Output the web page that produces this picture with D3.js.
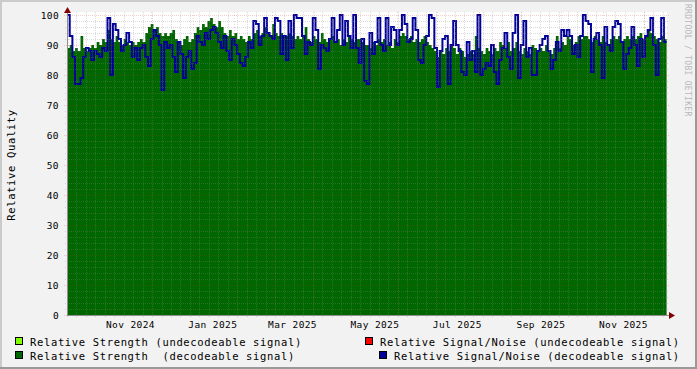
<!DOCTYPE html>
<html>
<head>
<meta charset="utf-8">
<script src="https://cdn.jsdelivr.net/npm/d3@7"></script>
<style>
  html, body { margin: 0; padding: 0; background: #f2f2f2; }
  svg { display: block; }
  text { font-family: "DejaVu Sans Mono", monospace; }
</style>
</head>
<body>
<svg id="chart" width="697" height="369"></svg>
<script>
'use strict';

// one value every two days, starting 30 Sep 2024
const startDay = new Date(2024, 8, 30);
const endDay = new Date(2025, 11, 18, 7);
const stepDays = 2;

// Relative Strength (decodeable signal), area
const strength = [
  89,90,88,89,88,93,89,88,89,90,89,91,90,92,91,95,92,91,93,91,90,92,91,90,91,90,91,92,91,94,96,97,95,96,94,93,94,
  93,94,95,92,91,90,92,93,91,92,94,96,95,97,96,98,99,97,96,98,96,94,93,95,93,94,92,93,92,91,93,92,94,95,93,94,96,
  94,93,97,94,93,94,93,93,94,93,92,93,92,93,96,92,91,93,92,91,94,92,91,92,93,91,92,90,92,91,93,92,91,92,92,91,90,
  90,89,91,90,92,91,92,90,91,89,92,91,93,94,93,92,93,91,92,91,92,93,91,90,89,88,86,88,87,89,88,90,89,87,89,88,86,
  87,88,87,93,89,88,87,89,88,87,89,88,91,90,89,91,88,89,91,88,87,89,88,87,90,89,88,89,88,90,88,87,89,93,89,91,90,
  93,92,90,91,93,92,93,93,92,91,93,92,91,93,91,90,92,93,92,93,91,92,93,92,93,92,93,94,92,93,95,94,93,92,91,93,92
];

// Relative Signal/Noise (decodeable signal), line
const snr = [
  100,93,86,77,77,79,86,89,88,85,88,87,86,89,88,99,80,97,95,92,88,90,94,91,86,89,85,89,90,86,83,92,95,93,90,75,91,
  89,90,86,81,91,87,79,86,88,82,84,93,91,90,94,92,95,96,94,91,89,93,88,85,92,90,87,84,83,86,91,89,98,97,90,93,99,
  94,93,92,99,98,87,93,85,98,89,100,99,99,93,87,91,90,99,95,82,90,89,88,92,99,91,95,100,90,98,93,89,100,89,84,92,78,
  77,94,87,91,99,90,88,99,90,96,95,90,95,100,97,91,92,99,95,85,84,90,93,100,99,89,76,88,92,93,77,90,98,90,88,81,80,
  91,85,88,81,100,80,82,84,83,90,81,77,85,89,94,86,82,94,100,79,90,98,86,89,80,80,88,90,92,93,88,82,85,91,88,95,93,
  95,93,87,90,86,93,100,98,97,81,92,94,90,79,96,90,88,96,98,97,91,82,87,89,96,90,83,92,86,93,95,99,90,80,92,99,91
];

const yTicks = [0, 10, 20, 30, 40, 50, 60, 70, 80, 90, 100];
const xLabels = ['Nov 2024', 'Jan 2025', 'Mar 2025', 'May 2025', 'Jul 2025', 'Sep 2025', 'Nov 2025'];
const xLabelMonths = [new Date(2024, 10, 1), new Date(2025, 0, 1), new Date(2025, 2, 1), new Date(2025, 4, 1),
                      new Date(2025, 6, 1), new Date(2025, 8, 1), new Date(2025, 10, 1)];

const legendItems = [
  { label: 'Relative Strength (undecodeable signal)', color: '#80ff00', col: 0, row: 0 },
  { label: 'Relative Signal/Noise (undecodeable signal)', color: '#ff0000', col: 1, row: 0 },
  { label: 'Relative Strength  (decodeable signal)', color: '#006600', col: 0, row: 1 },
  { label: 'Relative Signal/Noise (decodeable signal)', color: '#000099', col: 2, row: 1 }
];

const W = 697, H = 369;
const plot = { left: 67, right: 667, top: 12, bottom: 315 };

const svg = d3.select('#chart');

// background + 3d frame
svg.append('rect').attr('width', W).attr('height', H).attr('fill', '#f2f2f2');
svg.append('path').attr('d', `M0,0H${W}V2H2V${H}H0Z`).attr('fill', '#cbcbcb');
svg.append('path').attr('d', `M${W},${H}H0V${H - 2}H${W - 2}V0H${W}Z`).attr('fill', '#999999');

// scales
const x = d3.scaleTime().domain([startDay, endDay]).range([plot.left, plot.right]);
const y = d3.scaleLinear().domain([0, 101]).range([plot.bottom, plot.top]);

// canvas
svg.append('rect')
  .attr('x', plot.left).attr('y', plot.top)
  .attr('width', plot.right - plot.left).attr('height', plot.bottom - plot.top)
  .attr('fill', '#ffffff');

// series to points (step after, last value held to the end)
function toPoints(vals){
  const pts = vals.map((v, i) => ({ t: d3.timeDay.offset(startDay, i * stepDays), v: v }));
  pts.push({ t: d3.timeDay.offset(startDay, vals.length * stepDays), v: vals[vals.length - 1] });
  return pts;
}

const area = d3.area()
  .x(d => x(d.t)).y0(y(0)).y1(d => y(d.v))
  .curve(d3.curveStepAfter);

const line = d3.line()
  .x(d => x(d.t)).y(d => y(d.v))
  .curve(d3.curveStepAfter);

svg.append('path')
  .datum(toPoints(strength))
  .attr('d', area)
  .attr('fill', '#006600');

svg.append('path')
  .datum(toPoints(snr))
  .attr('d', line)
  .attr('fill', 'none')
  .attr('stroke', '#000099')
  .attr('stroke-width', 2);

// grid (drawn on top, like rrdtool)
const grid = svg.append('g').attr('shape-rendering', 'crispEdges');
const minorCol = 'rgba(140,140,140,0.3)';
const majorCol = 'rgba(200,40,40,0.22)';

const minorY = d3.range(0, 101, 2).filter(v => v % 10 !== 0);
grid.selectAll('.hminor').data(minorY).enter().append('line')
  .attr('x1', plot.left - 2).attr('x2', plot.right + 2)
  .attr('y1', d => Math.round(y(d)) + 0.5).attr('y2', d => Math.round(y(d)) + 0.5)
  .attr('stroke', minorCol).attr('stroke-dasharray', '1,1');

grid.selectAll('.hmajor').data(yTicks).enter().append('line')
  .attr('x1', plot.left - 3).attr('x2', plot.right + 2)
  .attr('y1', d => Math.round(y(d)) + 0.5).attr('y2', d => Math.round(y(d)) + 0.5)
  .attr('stroke', majorCol).attr('stroke-dasharray', '1,1');

const weeks = d3.timeMonday.range(startDay, endDay);
grid.selectAll('.vminor').data(weeks).enter().append('line')
  .attr('x1', d => Math.round(x(d)) + 0.5).attr('x2', d => Math.round(x(d)) + 0.5)
  .attr('y1', plot.top).attr('y2', plot.bottom + 2)
  .attr('stroke', minorCol).attr('stroke-dasharray', '1,1');

const months = d3.timeMonth.range(startDay, endDay);
grid.selectAll('.vmajor').data(months).enter().append('line')
  .attr('x1', d => Math.round(x(d)) + 0.5).attr('x2', d => Math.round(x(d)) + 0.5)
  .attr('y1', plot.top).attr('y2', plot.bottom + 3)
  .attr('stroke', majorCol).attr('stroke-dasharray', '1,2');

// axes
svg.append('line')
  .attr('x1', plot.left).attr('x2', plot.right + 4)
  .attr('y1', plot.bottom + 0.5).attr('y2', plot.bottom + 0.5)
  .attr('stroke', '#909090');
svg.append('line')
  .attr('x1', plot.left + 0.5).attr('x2', plot.left + 0.5)
  .attr('y1', plot.bottom).attr('y2', plot.top - 2)
  .attr('stroke', '#909090');

// arrows
svg.append('path')
  .attr('d', `M${plot.right + 2},${plot.bottom - 3}L${plot.right + 8},${plot.bottom + 0.5}L${plot.right + 2},${plot.bottom + 4}Z`)
  .attr('fill', '#800000');
svg.append('path')
  .attr('d', `M${plot.left - 3},${plot.top + 1}L${plot.left + 0.5},${plot.top - 5}L${plot.left + 4},${plot.top + 1}Z`)
  .attr('fill', '#800000');

// y labels
svg.selectAll('.ylab').data(yTicks).enter().append('text')
  .attr('x', 59).attr('y', d => y(d) + 3.5)
  .attr('text-anchor', 'end')
  .attr('font-size', '9.5px').attr('letter-spacing', '0.4px')
  .attr('fill', '#000')
  .text(d => d);

// x labels: rrdtool centres them half a month after the tick
svg.selectAll('.xlab').data(xLabelMonths).enter().append('text')
  .attr('x', d => x(d3.timeDay.offset(d, 15)))
  .attr('y', 328)
  .attr('text-anchor', 'middle')
  .attr('font-size', '9.5px').attr('letter-spacing', '0.4px')
  .attr('fill', '#000')
  .text((d, i) => xLabels[i]);

// vertical title
svg.append('text')
  .attr('transform', 'translate(15,165) rotate(-90)')
  .attr('text-anchor', 'middle')
  .attr('font-size', '10.5px').attr('letter-spacing', '0.65px')
  .attr('fill', '#000')
  .text('Relative Quality');

// watermark
svg.append('text')
  .attr('transform', 'translate(685,4) rotate(90)')
  .attr('font-size', '8px').attr('letter-spacing', '0.3px')
  .attr('fill', '#b8b8b8')
  .text('RRDTOOL / TOBI OETIKER');

// legend
const colX = [15, 365, 379];
const rowY = [337, 351];
const leg = svg.selectAll('.leg').data(legendItems).enter().append('g')
  .attr('transform', d => `translate(${colX[d.col]},${rowY[d.row]})`);
leg.append('rect')
  .attr('x', 0.5).attr('y', 0.5).attr('width', 7).attr('height', 7)
  .attr('fill', d => d.color).attr('stroke', '#000');
leg.append('text')
  .attr('x', 15).attr('y', 8.5)
  .attr('font-size', '10.5px').attr('letter-spacing', '0.65px')
  .attr('fill', '#000')
  .attr('xml:space', 'preserve')
  .style('white-space', 'pre')
  .text(d => d.label);
</script>
</body>
</html>
